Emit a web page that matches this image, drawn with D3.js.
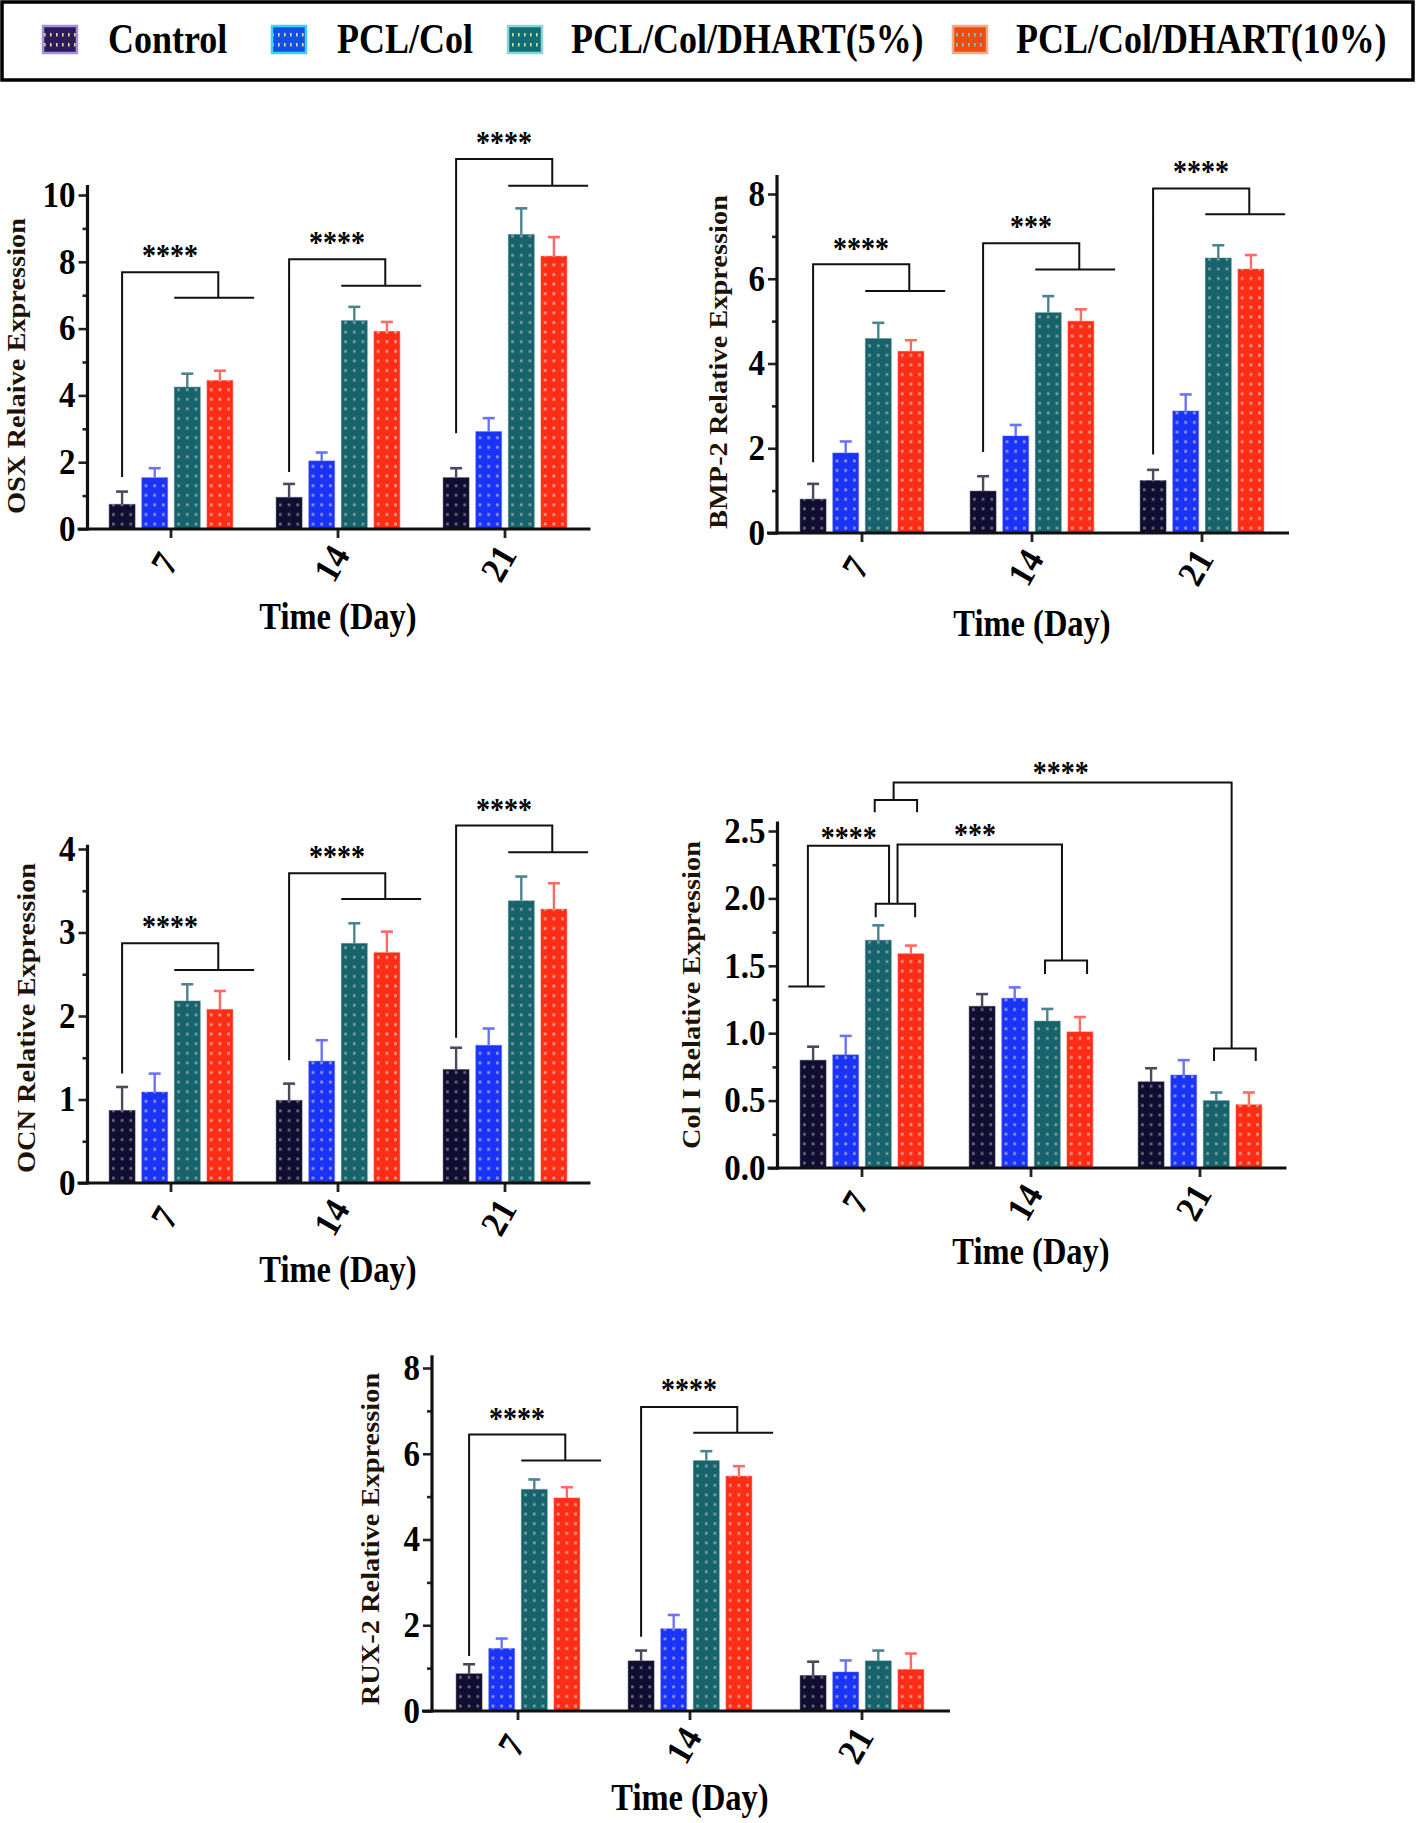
<!DOCTYPE html>
<html>
<head>
<meta charset="utf-8">
<script src="https://cdn.jsdelivr.net/npm/d3@7"></script>
<style>
body { margin: 0; background: #fff; }
svg { display: block; }
text { font-family: "Liberation Serif", "Times New Roman", serif; font-weight: bold; }
</style>
</head>
<body>
<script>
// Groups and time points
var series = ["Control", "PCL/Col", "PCL/Col/DHART(5%)", "PCL/Col/DHART(10%)"];
var days = [7, 14, 21];

// Means (rows = day 7, 14, 21; columns = series) and SD (error bar above the mean)
var osxMean = [[0.74, 1.54, 4.25, 4.45], [0.95, 2.04, 6.24, 5.92], [1.54, 2.92, 8.82, 8.17]];
var osxSd   = [[0.38, 0.28, 0.40, 0.29], [0.40, 0.25, 0.41, 0.28], [0.28, 0.40, 0.78, 0.57]];
var bmpMean = [[0.80, 1.89, 4.59, 4.29], [0.99, 2.29, 5.20, 5.00], [1.24, 2.88, 6.49, 6.23]];
var bmpSd   = [[0.36, 0.27, 0.37, 0.26], [0.35, 0.26, 0.39, 0.28], [0.25, 0.39, 0.30, 0.33]];
var ocnMean = [[0.87, 1.09, 2.18, 2.08], [0.99, 1.46, 2.87, 2.76], [1.36, 1.65, 3.38, 3.28]];
var ocnSd   = [[0.28, 0.22, 0.20, 0.22], [0.20, 0.25, 0.24, 0.25], [0.26, 0.20, 0.29, 0.31]];
var colMean = [[0.80, 0.84, 1.69, 1.59], [1.20, 1.26, 1.09, 1.01], [0.64, 0.69, 0.50, 0.47]];
var colSd   = [[0.10, 0.14, 0.11, 0.06], [0.09, 0.08, 0.09, 0.11], [0.10, 0.11, 0.06, 0.09]];
var ruxMean = [[0.87, 1.46, 5.17, 4.97], [1.17, 1.92, 5.84, 5.48], [0.83, 0.91, 1.17, 0.97]];
var ruxSd   = [[0.22, 0.23, 0.23, 0.25], [0.24, 0.32, 0.22, 0.23], [0.32, 0.27, 0.24, 0.37]];

// Significance brackets: control vs the two DHART groups (values on the y scale)
var osxSig = [
  {day: 7,  label: "****", base: 1.56, top: 7.69, drop: 6.92, star: 8.35},
  {day: 14, label: "****", base: 1.71, top: 8.08, drop: 7.28, star: 8.74},
  {day: 21, label: "****", base: 2.87, top: 11.08, drop: 10.28, star: 11.71}
];
var bmpSig = [
  {day: 7,  label: "****", base: 1.67, top: 6.34, drop: 5.71, star: 6.83},
  {day: 14, label: "***",  base: 1.91, top: 6.84, drop: 6.22, star: 7.34},
  {day: 21, label: "****", base: 1.85, top: 8.13, drop: 7.52, star: 8.64}
];
var ocnSig = [
  {day: 7,  label: "****", base: 1.31, top: 2.87, drop: 2.55, star: 3.13},
  {day: 14, label: "****", base: 1.47, top: 3.71, drop: 3.40, star: 3.97},
  {day: 21, label: "****", base: 1.74, top: 4.28, drop: 3.96, star: 4.53}
];
var ruxSig = [
  {day: 7,  label: "****", base: 1.28, top: 6.45, drop: 5.84, star: 6.95},
  {day: 14, label: "****", base: 1.73, top: 7.09, drop: 6.49, star: 7.61}
];
// Col I brackets as polylines of [day, offset in bar slots from group centre, value]
var colSigLines = [
  [[7, -2.26, 1.346], [7, -1.14, 1.346]],
  [[7, -1.66, 1.346], [7, -1.66, 2.39], [7, 0.83, 2.39], [7, 0.83, 1.96]],
  [[7, 0.42, 1.86], [7, 0.42, 1.96], [7, 1.63, 1.96], [7, 1.63, 1.86]],
  [[7, 1.09, 1.96], [7, 1.09, 2.40], [14, 0.95, 2.40], [14, 0.95, 1.54]],
  [[14, 0.43, 1.44], [14, 0.43, 1.54], [14, 1.72, 1.54], [14, 1.72, 1.44]],
  [[7, 0.39, 2.64], [7, 0.39, 2.73], [7, 1.69, 2.73], [7, 1.69, 2.64]],
  [[7, 0.97, 2.73], [7, 0.97, 2.86], [21, 0.97, 2.86], [21, 0.97, 0.887]],
  [[21, 0.43, 0.794], [21, 0.43, 0.887], [21, 1.71, 0.887], [21, 1.71, 0.794]]
];
var colSigStars = [
  {day: 7,  off: -0.41, v: 2.49, label: "****"},
  {day: 14, off: -1.72, v: 2.51, label: "***"},
  {day: 14, off: 0.91,  v: 2.97, label: "****"}
];

// Colours
var barColors = ["#100d30", "#1a33f8", "#16636b", "#ff2d16"];
var dotColors = ["#66667a", "#8c92e0", "#7a9ca0", "#ee9a88"];
var errColors = ["#4a4a5c", "#6a73ff", "#4a8490", "#ff6a62"];
var swatchFill = ["#2b1b5c", "#1050e6", "#0e6e78", "#f04c10"];
var swatchEdge = ["#a392d8", "#3fd0ff", "#8fd4d4", "#f6a88a"];

var W = 1416, H = 1823;
var S = 1.15;          // vertical stretch of the lettering
var pitch = 32.6, bw = 26;

var svg = d3.select("body").append("svg").attr("width", W).attr("height", H);
svg.append("rect").attr("width", W).attr("height", H).attr("fill", "#fff");
var defs = svg.append("defs");

series.forEach(function(s, i) {
    var p = defs.append("pattern").attr("id", "dots" + i)
        .attr("patternUnits", "userSpaceOnUse")
        .attr("width", bw / 3).attr("height", 9.6);
    p.append("rect").attr("width", bw / 3).attr("height", 9.6).attr("fill", barColors[i]);
    p.append("rect").attr("x", 2.9).attr("y", 3.3).attr("width", 2.8).attr("height", 2.8)
        .attr("fill", dotColors[i]);

    var q = defs.append("pattern").attr("id", "sw" + i)
        .attr("patternUnits", "userSpaceOnUse")
        .attr("width", 6).attr("height", 10);
    q.append("rect").attr("width", 6).attr("height", 10).attr("fill", swatchFill[i]);
    q.append("rect").attr("x", 2).attr("y", 3).attr("width", 1.6).attr("height", 3.5)
        .attr("fill", i === 3 ? "#7ec8e0" : "#e8d890");
});

function txt(g, x, y, s, size, opt) {
    opt = opt || {};
    var sy = opt.sy || S;
    var t = g.append("text")
        .attr("transform", "translate(" + x + "," + y + ")" +
              (opt.rot && !opt.stretchAlong ? " rotate(" + opt.rot + ") scale(1," + sy + ")"
               : " scale(1," + sy + ")" + (opt.rot ? " rotate(" + opt.rot + ")" : "")))
        .attr("font-size", size)
        .attr("text-anchor", opt.anchor || "middle")
        .attr("fill", opt.fill || "#000")
        .text(s);
    if (opt.dy) t.attr("dy", opt.dy);
    return t;
}

// ---- legend ----
var leg = svg.append("g");
leg.append("rect").attr("x", 2).attr("y", 2).attr("width", 1411).attr("height", 78)
    .attr("fill", "none").attr("stroke", "#000").attr("stroke-width", 3.5);
var swX = [43, 272, 508, 953], labX = [108, 337, 571, 1016];
series.forEach(function(s, i) {
    leg.append("rect").attr("x", swX[i]).attr("y", 26).attr("width", 34).attr("height", 27)
        .attr("fill", "url(#sw" + i + ")").attr("stroke", swatchEdge[i]).attr("stroke-width", 2.5);
    txt(leg, labX[i], 53, s, 36, {anchor: "start", sy: 1.2});
});

// ---- panels ----
function drawPanel(p) {
    var g = svg.append("g");
    var x = d3.scaleBand().domain(days).range([p.x0, p.x1]);
    var y = d3.scaleLinear().domain([0, p.yMax]).range([p.y0, p.yMaxPx]);
    function cx(day) { return x(day) + x.bandwidth() / 2; }

    var recs = [];
    days.forEach(function(d, di) {
        series.forEach(function(s, si) {
            recs.push({day: d, si: si, v: p.mean[di][si], e: p.sd[di][si]});
        });
    });
    function barMid(d) { return cx(d.day) + (d.si - 1.5) * pitch; }

    // error bars (upper only)
    g.selectAll("line.err").data(recs).enter().append("line").attr("class", "err")
        .attr("x1", barMid).attr("x2", barMid)
        .attr("y1", function(d) { return y(d.v); })
        .attr("y2", function(d) { return y(d.v + d.e); })
        .attr("stroke", function(d) { return errColors[d.si]; }).attr("stroke-width", 2.4);
    g.selectAll("line.cap").data(recs).enter().append("line").attr("class", "cap")
        .attr("x1", function(d) { return barMid(d) - 6; })
        .attr("x2", function(d) { return barMid(d) + 6; })
        .attr("y1", function(d) { return y(d.v + d.e); })
        .attr("y2", function(d) { return y(d.v + d.e); })
        .attr("stroke", function(d) { return errColors[d.si]; }).attr("stroke-width", 2.6);

    // bars: each in its own group so the dot pattern starts at the bar's corner
    var bars = g.selectAll("g.bar").data(recs).enter().append("g").attr("class", "bar")
        .attr("transform", function(d) { return "translate(" + (barMid(d) - bw / 2) + "," + p.y0 + ")"; });
    bars.append("rect")
        .attr("y", function(d) { return y(d.v) - p.y0; })
        .attr("width", bw)
        .attr("height", function(d) { return p.y0 - y(d.v); })
        .attr("fill", function(d) { return "url(#dots" + d.si + ")"; })
        .attr("stroke", function(d) { return errColors[d.si]; })
        .attr("stroke-opacity", 0.45).attr("stroke-width", 1);

    // y axis
    var majors = d3.range(0, p.yMax + 1e-9, p.major);
    var minors = d3.range(0, p.yMax + 1e-9, p.minor).filter(function(v) {
        return Math.abs(v / p.major - Math.round(v / p.major)) > 1e-6;
    });
    var ya = g.append("g").attr("transform", "translate(" + p.x0 + ",0)")
        .call(d3.axisLeft(y).tickValues(majors).tickSize(9).tickSizeOuter(0).tickFormat(""));
    var ym = g.append("g").attr("transform", "translate(" + p.x0 + ",0)")
        .call(d3.axisLeft(y).tickValues(minors).tickSize(5).tickSizeOuter(0).tickFormat(""));
    [ya, ym].forEach(function(a) {
        a.select(".domain").remove();
        a.selectAll(".tick line").attr("stroke", "#222").attr("stroke-width", 2.6);
    });
    g.append("line").attr("x1", p.x0).attr("x2", p.x0)
        .attr("y1", p.y0 + 1.5).attr("y2", y(p.axisTop))
        .attr("stroke", "#111").attr("stroke-width", 3.2);
    majors.forEach(function(v) {
        txt(g, p.x0 - 12, y(v), d3.format(p.fmt)(v), 33, {anchor: "end", dy: "0.34em", sy: 1.06});
    });

    // x axis
    var xa = g.append("g").attr("transform", "translate(0," + p.y0 + ")")
        .call(d3.axisBottom(x).tickSize(9).tickSizeOuter(0).tickFormat(""));
    xa.select(".domain").remove();
    xa.selectAll(".tick line").attr("stroke", "#222").attr("stroke-width", 2.8);
    g.append("line").attr("x1", p.x0 - 10).attr("x2", p.x1 + 2)
        .attr("y1", p.y0).attr("y2", p.y0)
        .attr("stroke", "#111").attr("stroke-width", 3.2);
    days.forEach(function(d) {
        txt(g, cx(d) - 7, p.y0 + 34, String(d), 34, {rot: -60, dy: "0.35em", sy: 1.08});
    });
    txt(g, cx(14), p.timeBase, "Time (Day)", 32.5, {});

    // y label (stretched along its length)
    txt(g, p.labelX, p.labelY, p.label, 24.7,
        {rot: -90, stretchAlong: true, dy: "0.33em", fill: "#1e1204"});

    // significance
    (p.sig || []).forEach(function(b) {
        var c = cx(b.day);
        var path = d3.path();
        path.moveTo(c - 1.5 * pitch, y(b.base));
        path.lineTo(c - 1.5 * pitch, y(b.top));
        path.lineTo(c + 1.45 * pitch, y(b.top));
        path.lineTo(c + 1.45 * pitch, y(b.drop));
        path.moveTo(c + 0.1 * pitch, y(b.drop));
        path.lineTo(c + 2.55 * pitch, y(b.drop));
        g.append("path").attr("d", path.toString()).attr("fill", "none")
            .attr("stroke", "#111").attr("stroke-width", 2);
        txt(g, c - 1, y(b.star) + 15.5, b.label, 28, {});
    });
    (p.sigLines || []).forEach(function(pts) {
        var line = d3.line()
            .x(function(q) { return cx(q[0]) + q[1] * pitch; })
            .y(function(q) { return y(q[2]); });
        g.append("path").attr("d", line(pts)).attr("fill", "none")
            .attr("stroke", "#111").attr("stroke-width", 2);
    });
    (p.sigStars || []).forEach(function(s) {
        txt(g, cx(s.day) + s.off * pitch, y(s.v) + 15.5, s.label, 28, {});
    });
}

drawPanel({label: "OSX Relaive Expression", mean: osxMean, sd: osxSd, sig: osxSig,
    x0: 87.5, x1: 588.5, y0: 529, yMax: 10, yMaxPx: 195, axisTop: 10.3,
    major: 2, minor: 1, fmt: "d", labelX: 17, labelY: 366, timeBase: 629});
drawPanel({label: "BMP-2 Relative Expression", mean: bmpMean, sd: bmpSd, sig: bmpSig,
    x0: 777, x1: 1287, y0: 533, yMax: 8, yMaxPx: 194, axisTop: 8.45,
    major: 2, minor: 1, fmt: "d", labelX: 719, labelY: 362, timeBase: 636});
drawPanel({label: "OCN Relative Expression", mean: ocnMean, sd: ocnSd, sig: ocnSig,
    x0: 87.5, x1: 588.5, y0: 1183, yMax: 4, yMaxPx: 849, axisTop: 4.05,
    major: 1, minor: 0.5, fmt: "d", labelX: 27, labelY: 1018, timeBase: 1282});
drawPanel({label: "Col I Relative Expression", mean: colMean, sd: colSd,
    sigLines: colSigLines, sigStars: colSigStars,
    x0: 777.5, x1: 1284.5, y0: 1168, yMax: 2.5, yMaxPx: 831, axisTop: 2.57,
    major: 0.5, minor: 0.25, fmt: ".1f", labelX: 692, labelY: 995, timeBase: 1264});
drawPanel({label: "RUX-2 Relative Expression", mean: ruxMean, sd: ruxSd, sig: ruxSig,
    x0: 432, x1: 948, y0: 1711, yMax: 8, yMaxPx: 1368, axisTop: 8.3,
    major: 2, minor: 1, fmt: "d", labelX: 371, labelY: 1539, timeBase: 1810});
</script>
</body>
</html>
